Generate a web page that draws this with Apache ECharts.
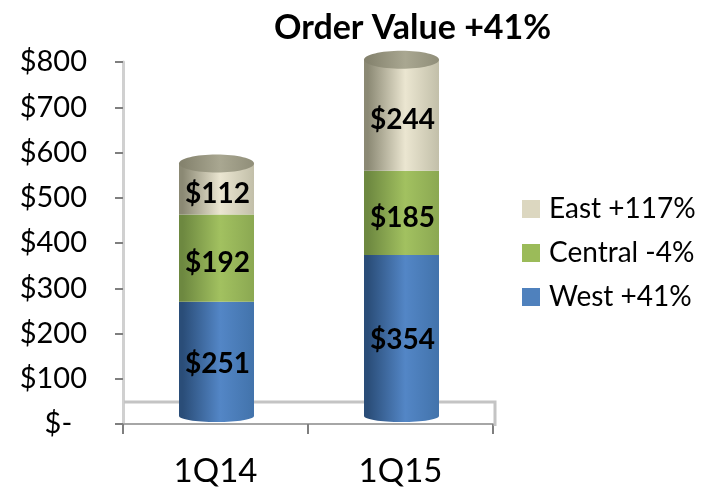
<!DOCTYPE html>
<html><head><meta charset="utf-8">
<script src="https://cdn.jsdelivr.net/npm/echarts@6/dist/echarts.min.js"></script>
<style>html,body{margin:0;padding:0;background:#fff}#c{width:719px;height:488px}</style></head>
<body><div id="c"></div>
<script>
const categories = ['1Q14', '1Q15'];
const west = [251, 354];
const central = [192, 185];
const east = [112, 244];
const seriesNames = ['East +117%', 'Central -4%', 'West +41%'];
const yTicks = [0, 100, 200, 300, 400, 500, 600, 700, 800];
const title = 'Order Value +41%';

const FONT = 'Lato, "Open Sans", sans-serif';
const grad = (a, b, c) => ({type:'linear',x:0,y:0,x2:1,y2:0,colorStops:[
  {offset:0,color:a},{offset:0.05,color:a},{offset:0.55,color:b},{offset:1,color:c}]});
const gWest = grad('#2a4d78','#5386c6','#4273ab');
const gCentral = grad('#6d8840','#a2c160','#8ba852');
const gEast = grad('#8b8974','#ebe6d1','#c2bfa9');
const gCap = grad('#85836e','#a9a791','#908e79');
const totals = categories.map((_, i) => west[i] + central[i] + east[i]);

const cap = (vals, fill, z, ry) => ({
  type:'custom', xAxisIndex:1, yAxisIndex:1, z, silent:true,
  data: vals.map((v,i)=>[i,v]),
  encode:{x:0,y:1},
  renderItem:(p,api)=>{
    const c = api.coord([api.value(0), api.value(1)]);
    return {type:'ellipse', shape:{cx:c[0],cy:c[1],rx:37.5,ry}, style:{fill}};
  }
});
const seg = (name, data, color) => ({
  name, type:'bar', stack:'s', xAxisIndex:1, yAxisIndex:1, barWidth:75, z:3, data,
  itemStyle:{color},
  label:{show:true, position:'inside', offset:[1,5], formatter:p=>'$'+p.value,
    color:'#000', fontFamily:FONT, fontWeight:'bold', fontSize:28}
});

const chart = echarts.init(document.getElementById('c'));
chart.setOption({
  animation:false,
  backgroundColor:'#fff',
  title:{text:title,left:269,top:6,textStyle:{fontFamily:FONT,fontWeight:'bold',fontSize:34,color:'#000'}},
  legend:{
    orient:'vertical', left:517, top:190, itemWidth:18, itemHeight:18, itemGap:16,
    textStyle:{fontFamily:FONT,fontSize:28,color:'#000',padding:[0,0,0,4]},
    data:[
      {name:seriesNames[0],icon:'rect',itemStyle:{color:'#dcd7c0'}},
      {name:seriesNames[1],icon:'rect',itemStyle:{color:'#9bbb59'}},
      {name:seriesNames[2],icon:'rect',itemStyle:{color:'#4f81bd'}}
    ]
  },
  grid:[
    {left:123,top:62,width:370,height:364},
    {left:124,top:52,width:370,height:364}
  ],
  xAxis:[
    {type:'category',gridIndex:0,data:categories,boundaryGap:true,
     axisLine:{lineStyle:{color:'#a6a6a6',width:2}},
     axisTick:{show:true,length:10,lineStyle:{color:'#7f7f7f',width:2}},
     axisLabel:{fontFamily:FONT,fontSize:33,color:'#000',margin:31}},
    {type:'category',gridIndex:1,data:categories,show:false}
  ],
  yAxis:[
    {type:'value',gridIndex:0,min:0,max:800,interval:100,
     axisLine:{show:true,lineStyle:{color:'#d0d0d0',width:3}},
     axisTick:{show:true,length:8,lineStyle:{color:'#7f7f7f',width:2}},
     splitLine:{show:false},
     axisLabel:{fontFamily:FONT,fontSize:29,color:'#000',margin:36,
       formatter:v=>v===0?'$-\u00a0\u00a0':'$'+v}},
    {type:'value',gridIndex:1,min:0,max:800,interval:100,show:false,splitLine:{show:false}}
  ],
  series:[
    cap(categories.map(()=>0), gWest, 2, 6),
    seg(seriesNames[2], west, gWest),
    seg(seriesNames[1], central, gCentral),
    seg(seriesNames[0], east, gEast),
    cap(totals, gCap, 4, 9)
  ],
  graphic:[
    {type:'polyline',z:1,shape:{points:[[124,402],[495,402],[495,426]]},
     style:{fill:'none',stroke:'#c4c4c4',lineWidth:3}}
  ]
});
</script></body></html>
